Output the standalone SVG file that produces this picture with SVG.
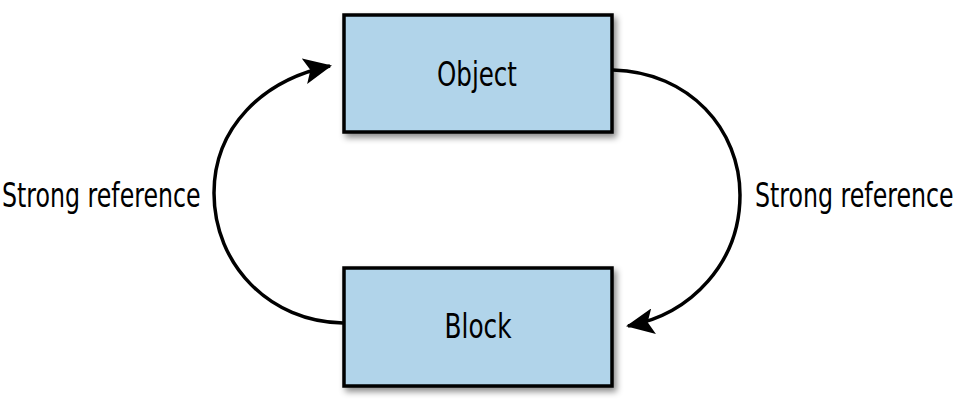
<svg xmlns="http://www.w3.org/2000/svg" width="960" height="415" viewBox="0 0 960 415">
<defs>
<style>
.box{fill:#b1d4ea;stroke:#000;stroke-width:3.5}
.lbl{font-family:"DejaVu Sans Condensed","Liberation Sans",sans-serif;font-stretch:condensed;font-size:34px;fill:#000}
.conn{fill:none;stroke:#000;stroke-width:3.5}
</style>
<filter id="sh" x="-10%" y="-10%" width="130%" height="140%">
<feDropShadow dx="3" dy="4" stdDeviation="3" flood-color="#000" flood-opacity="0.45"/>
</filter>
<marker id="arr" viewBox="0 0 28 26" refX="26" refY="13" markerWidth="28" markerHeight="26" markerUnits="userSpaceOnUse" orient="auto">
<path d="M0,0 L28,13 L0,26 L6,13 Z" fill="#000"/>
</marker>
</defs>
<g id="object">
<rect class="box" x="344" y="15" width="268" height="117" filter="url(#sh)"/>
<text class="lbl" x="477" y="86" text-anchor="middle" textLength="80" lengthAdjust="spacingAndGlyphs">Object</text>
</g>
<g id="block">
<rect class="box" x="344" y="268" width="268" height="118" filter="url(#sh)"/>
<text class="lbl" x="478" y="338" text-anchor="middle" textLength="67" lengthAdjust="spacingAndGlyphs">Block</text>
</g>
<g id="connectors">
<path class="conn" d="M613,70 C690,72 740,130 740,195 C740,262 692,314 628,326" marker-end="url(#arr)"/>
<path class="conn" d="M343,323 C270,322 214,265 214,193 C214,128 262,80 330,66" marker-end="url(#arr)"/>
<text class="lbl" transform="translate(755,207) scale(0.775,1)">Strong reference</text>
<text class="lbl" transform="translate(2,207) scale(0.775,1)">Strong reference</text>
</g>
</svg>
